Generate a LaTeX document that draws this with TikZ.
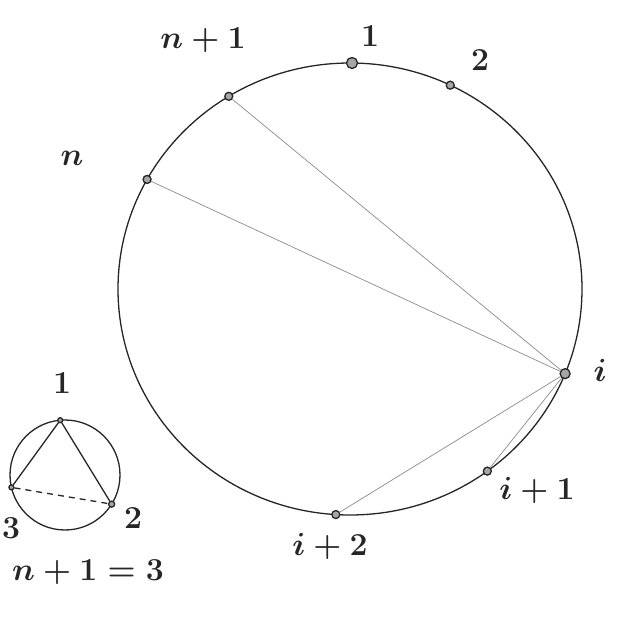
\RequirePackage{fix-cm}
\documentclass[tikz,border=0pt]{standalone}
\usetikzlibrary{calc}
\begin{document}
\begin{tikzpicture}[x=1pt,y=-1pt,
  rim/.style={draw=black!85, line width=1.3pt},
  chord/.style={draw=black!45, line width=0.7pt},
  vtx/.style={circle, draw=black!85, fill=black!35, line width=1.3pt, inner sep=0pt, minimum size=8pt},
  lab/.style={font=\fontsize{32}{36}\selectfont\boldmath, text=black!85}]
\useasboundingbox (0,0) rectangle (621,618);
\fill[white] (0,0) rectangle (621,618);
% big circle
\coordinate (C) at (350,289);
\draw[rim] (C) ellipse [x radius=232, y radius=226];
\node[vtx, minimum size=11pt] (p1) at ($(C)+(89.5:232 and -226)$) {};
\node[vtx] (p2) at ($(C)+(64.4:232 and -226)$) {};
\node[vtx] (pn1) at ($(C)+(121.5:232 and -226)$) {};
\node[vtx] (pn) at ($(C)+(151:232 and -226)$) {};
\node[vtx, minimum size=10pt] (pi) at ($(C)+(-22:232 and -226)$) {};
\node[vtx] (pi1) at ($(C)+(-53.7:232 and -226)$) {};
\node[vtx] (pi2) at ($(C)+(-93.5:232 and -226)$) {};
\draw[chord] (pn1) -- (pi);
\draw[chord] (pn) -- (pi);
\draw[chord] (pi) -- (pi1);
\draw[chord] (pi) -- (pi2);
% labels
\node[lab] (ln1) at (203,40) {$n+1$};
\node[lab] (l1) at (370,36) {$1$};
\node[lab] (l2) at (480,60) {$2$};
\node[lab] (ln) at (72,158) {$n$};
\node[lab, anchor=west] (li) at (590,370) {$i$};
\node[lab] (li1) at (537,490) {$i+1$};
\node[lab] (li2) at (330,546) {$i+2$};
% small circle
\coordinate (c) at (65,475);
\draw[rim] (c) circle (55);
\node[vtx, minimum size=5pt] (q1) at ($(c)+(95:55 and -55)$) {};
\node[vtx, minimum size=5pt] (q3) at ($(c)+(-167:55 and -55)$) {};
\node[vtx, minimum size=6pt] (q2) at ($(c)+(-32:55 and -55)$) {};
\draw[rim] (q1) -- (q3);
\draw[rim] (q1) -- (q2);
\draw[rim, dashed, dash pattern=on 6pt off 5pt] (q3) -- (q2);
\node[lab] (m1) at (62,383) {$1$};
\node[lab, anchor=west, inner sep=1pt] (m3) at (1,528) {$3$};
\node[lab] (m2) at (133,518) {$2$};
\node[lab] (eq) at (88,572) {$n+1=3$};
\end{tikzpicture}
\end{document}
